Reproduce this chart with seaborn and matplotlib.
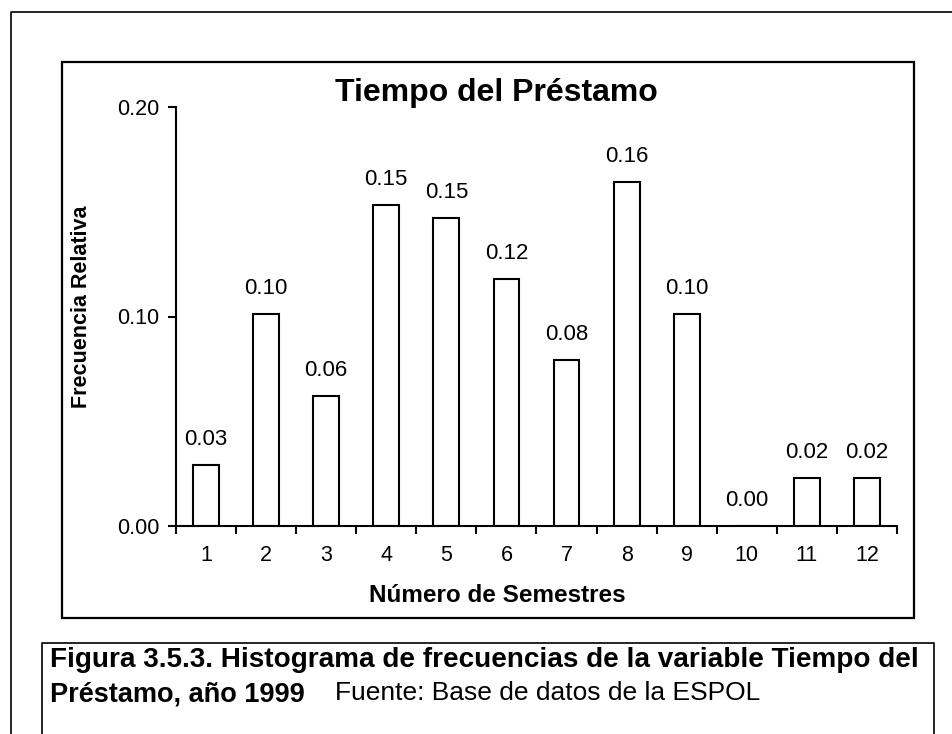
import numpy as np
import matplotlib
matplotlib.use("Agg")
import matplotlib.pyplot as plt
from matplotlib.lines import Line2D
from matplotlib.patches import Rectangle
import seaborn as sns

# Datos: frecuencia relativa por número de semestres
semestres = ["1", "2", "3", "4", "5", "6", "7", "8", "9", "10", "11", "12"]
frecuencia = [0.029, 0.101, 0.062, 0.153, 0.147, 0.118, 0.079, 0.164, 0.101, 0.0, 0.023, 0.023]
yticks = [0.00, 0.10, 0.20]

titulo = "Tiempo del Préstamo"
xlabel = "Número de Semestres"
ylabel = "Frecuencia Relativa"
caption_bold_1 = "Figura 3.5.3. Histograma de frecuencias de la variable Tiempo del"
caption_bold_2 = "Préstamo, año 1999"
caption_fuente = "Fuente: Base de datos de la ESPOL"

sns.set_style("white")
plt.rcParams["font.family"] = ["Liberation Sans", "DejaVu Sans"]
plt.rcParams["text.color"] = "black"
plt.rcParams["axes.labelcolor"] = "black"
plt.rcParams["xtick.color"] = "black"
plt.rcParams["ytick.color"] = "black"

W, H = 953, 734
fig = plt.figure(figsize=(W / 100, H / 100), dpi=100)

def fx(px):
    return px / W

def fy(py):
    return 1 - py / H

ax = fig.add_axes([fx(176), fy(526), fx(897) - fx(176), fy(107) - fy(526)])

sns.barplot(x=semestres, y=frecuencia, order=semestres, color="white",
            saturation=1, edgecolor="black", linewidth=1.5, width=0.43, ax=ax)

ax.set_xlim(-0.5, len(semestres) - 0.5)
ax.set_ylim(0, 0.2)

# etiquetas sobre las barras
for cont in ax.containers:
    ax.bar_label(cont, fmt="%.2f", padding=11, fontsize=16)

# ejes estilo Excel
for side in ["top", "right"]:
    ax.spines[side].set_visible(False)
for side in ["left", "bottom"]:
    ax.spines[side].set_linewidth(1.5)
    ax.spines[side].set_color("black")

ax.set_yticks(yticks)
ax.set_yticklabels([f"{v:.2f}" for v in yticks], fontsize=15.5)
ax.tick_params(axis="y", direction="out", length=6, width=1.5, pad=6, left=True)

ax.set_xticks(np.arange(len(semestres)))
ax.set_xticklabels(semestres, fontsize=15.5)
ax.set_xticks(np.arange(len(semestres) + 1) - 0.5, minor=True)
ax.tick_params(axis="x", which="major", length=0, pad=14)
ax.tick_params(axis="x", which="minor", direction="out", length=6, width=1.5, bottom=True)

ax.set_xlabel(xlabel, fontsize=17.5, fontweight="bold")
ax.set_ylabel(ylabel, fontsize=15.5, fontweight="bold")
ax.xaxis.set_label_coords((497 - 176) / 721, -(595 - 526) / 419)
ax.yaxis.set_label_coords(-(176 - 82) / 721, (526 - 307) / 419)
ax.xaxis.label.set_va("center")
ax.yaxis.label.set_va("center")
ax.grid(False)
ax.patch.set_alpha(0)

fig.text(fx(496), fy(93), titulo, fontsize=23, fontweight="bold",
         ha="center", va="center")

# marcos
fig.add_artist(Line2D([fx(11), fx(11), 1], [0, fy(12), fy(12)], color="black", lw=1.2))
fig.add_artist(Rectangle((fx(62), fy(618)), fx(914) - fx(62), fy(62) - fy(618),
                         transform=fig.transFigure, fill=False, edgecolor="black", lw=1.6))
fig.add_artist(Line2D([fx(42), fx(42), fx(934), fx(934)], [0, fy(643), fy(643), 0],
                      color="black", lw=1.2))

# pie de figura
fig.text(fx(50), fy(660), caption_bold_1, fontsize=20.1, fontweight="bold",
         ha="left", va="center")
fig.text(fx(50), fy(694), caption_bold_2, fontsize=19.5, fontweight="bold",
         ha="left", va="center")
fig.text(fx(335), fy(693), caption_fuente, fontsize=19, ha="left", va="center")

fig.savefig("out.png", dpi=100)
